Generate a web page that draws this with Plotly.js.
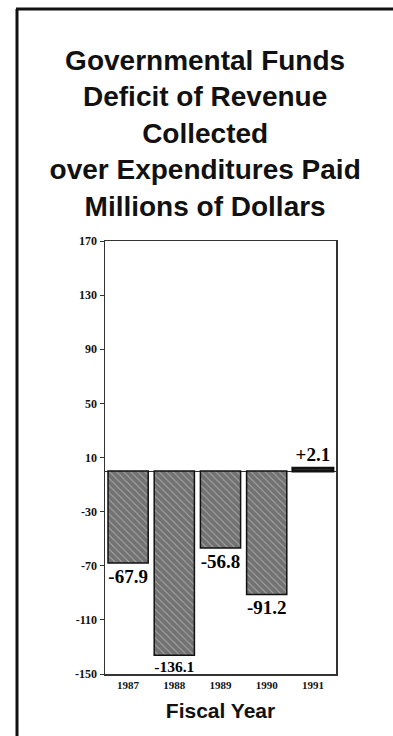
<!DOCTYPE html>
<html>
<head>
<meta charset="utf-8">
<script src="https://cdn.plot.ly/plotly-3.0.1.min.js"></script>
<style>
  html, body { margin: 0; padding: 0; background: #fff; }
  #chart { width: 393px; height: 736px; }
</style>
</head>
<body>
<div id="chart"></div>
<script>
// ---- data ----
const fiscalYears = ['1987', '1988', '1989', '1990', '1991'];
const deficitValues = [-67.9, -136.1, -56.8, -91.2, 2.1];
const yTickValues = [-150, -110, -70, -30, 10, 50, 90, 130, 170];
const chartTitleLines = ['Governmental Funds', 'Deficit of Revenue', 'Collected', 'over Expenditures Paid', 'Millions of Dollars'];
const xAxisTitle = 'Fiscal Year';

const barLabels = deficitValues.map(v => (v > 0 ? '+' : '') + v.toFixed(1));
const barOutlineWidth = deficitValues.map(v => (v > 0 ? 2.8 : 1.5));

const serif = '"Liberation Serif", "Times New Roman", serif';
const sans = '"Liberation Sans", Arial, Helvetica, sans-serif';

const trace = {
  type: 'bar',
  x: fiscalYears,
  y: deficitValues,
  text: barLabels,
  textposition: 'outside',
  cliponaxis: false,
  textfont: { family: serif, size: 19, weight: 'bold', color: '#000' },
  marker: {
    color: '#727272',
    line: { color: '#111', width: barOutlineWidth },
    pattern: { shape: '\\', bgcolor: '#727272', fgcolor: '#a8a8a8', size: 5, solidity: 0.2 }
  },
  hoverinfo: 'skip'
};

// plot area pixel geometry: left 105, right 336, top 241, bottom 674
const L = 105, R = 57, T = 241, B = 62;
const W = 393 - L - R, H = 736 - T - B;
const px2x = p => (p - L) / W;
const py2y = p => (736 - B - p) / H;

const layout = {
  width: 393,
  height: 736,
  margin: { l: L, r: R, t: T, b: B, pad: 0 },
  paper_bgcolor: '#fff',
  plot_bgcolor: '#fff',
  showlegend: false,
  bargap: 0.13,
  title: {
    text: chartTitleLines.join('<br>'),
    font: { family: sans, size: 28, weight: 'bold', color: '#111' },
    x: 0.522,
    xanchor: 'center',
    xref: 'container',
    y: 0.905,
    yanchor: 'top',
    yref: 'container'
  },
  xaxis: {
    type: 'category',
    showline: true,
    mirror: true,
    linecolor: '#333',
    linewidth: 1.5,
    ticks: '',
    showgrid: false,
    tickfont: { family: serif, size: 11, weight: 'bold', color: '#111' },
    title: { text: xAxisTitle, font: { family: sans, size: 21, weight: 'bold', color: '#111' }, standoff: 13 }
  },
  yaxis: {
    range: [-150, 170],
    tickvals: yTickValues,
    ticktext: yTickValues.map(String),
    showline: true,
    mirror: true,
    linecolor: '#333',
    linewidth: 1.5,
    ticks: 'outside',
    ticklen: 4,
    tickwidth: 1,
    tickcolor: '#333',
    showgrid: false,
    zeroline: true,
    zerolinecolor: '#333',
    zerolinewidth: 1,
    tickfont: { family: serif, size: 12, weight: 'bold', color: '#111' }
  },
  shapes: [
    { type: 'line', xref: 'paper', yref: 'paper', x0: px2x(17), x1: px2x(17), y0: py2y(9), y1: py2y(740), line: { color: '#111', width: 3 } },
    { type: 'line', xref: 'paper', yref: 'paper', x0: px2x(16), x1: px2x(395), y0: py2y(9), y1: py2y(9), line: { color: '#111', width: 3 } }
  ]
};

Plotly.newPlot('chart', [trace], layout, { displayModeBar: false, staticPlot: true });
</script>
</body>
</html>
